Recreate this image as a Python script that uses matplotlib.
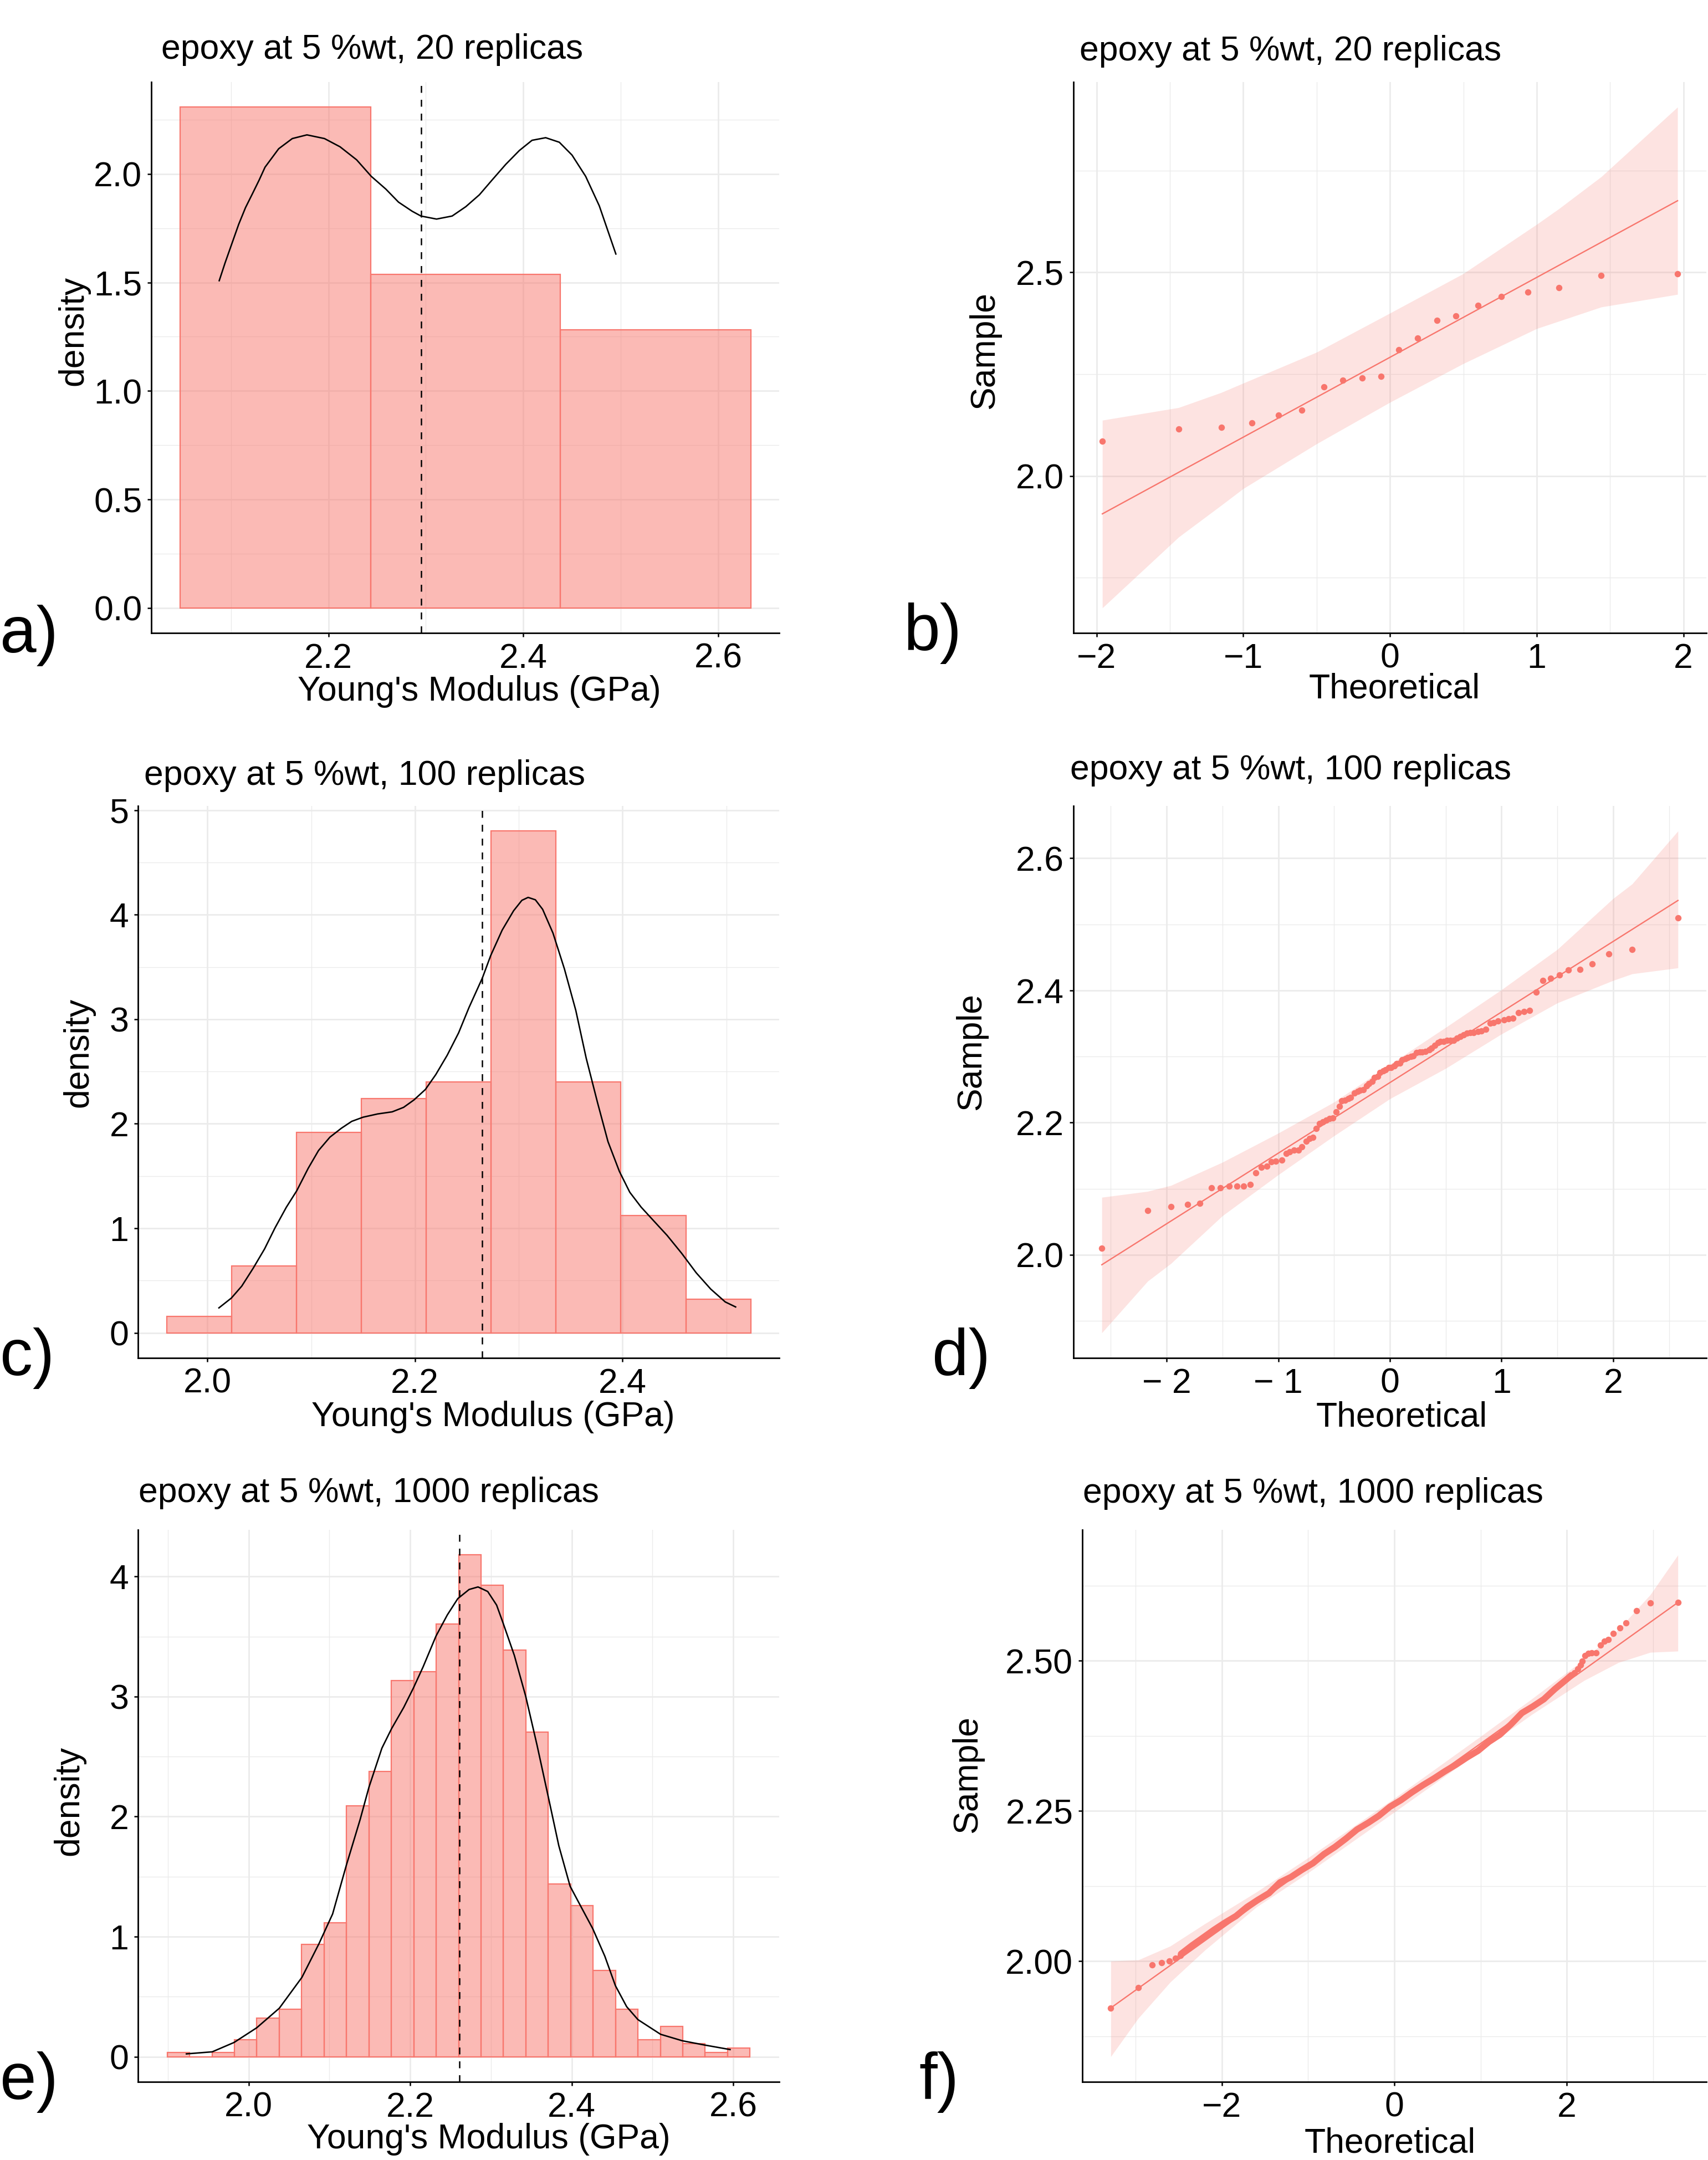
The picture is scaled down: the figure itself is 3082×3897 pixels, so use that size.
import matplotlib
matplotlib.use('Agg')
import matplotlib.pyplot as plt
import numpy as np
from matplotlib.ticker import FixedLocator, FixedFormatter

plt.rcParams['font.family'] = ['Liberation Sans', 'DejaVu Sans']

W, H, DPI = 3082, 3897, 100
SALMON = '#F8766D'
GRID = '#EBEBEB'

# ---------------- data ----------------
# a) histogram + density, 20 replicas
a_edges = [2.048, 2.2435, 2.438, 2.6335]
a_density = [2.308, 1.538, 1.282]
a_mean = 2.295
a_kde_x = [2.088, 2.094, 2.101, 2.108, 2.115, 2.122, 2.129, 2.135, 2.149, 2.163, 2.178,
           2.196, 2.212, 2.229, 2.244, 2.259, 2.272, 2.286, 2.295, 2.311, 2.327, 2.341,
           2.355, 2.368, 2.382, 2.396, 2.409, 2.423, 2.437, 2.450, 2.464, 2.478, 2.495]
a_kde_y = [1.508, 1.590, 1.679, 1.768, 1.845, 1.908, 1.972, 2.031, 2.116, 2.163, 2.180,
           2.163, 2.125, 2.065, 1.989, 1.930, 1.870, 1.828, 1.806, 1.792, 1.806, 1.849,
           1.904, 1.972, 2.044, 2.108, 2.155, 2.167, 2.146, 2.087, 1.989, 1.853, 1.631]

# b) QQ plot, 20 replicas
b_theo = [-1.96, -1.44, -1.15, -0.94, -0.76, -0.60, -0.45, -0.32, -0.19, -0.06,
          0.06, 0.19, 0.32, 0.45, 0.60, 0.76, 0.94, 1.15, 1.44, 1.96]
b_sample = [2.086, 2.115, 2.120, 2.131, 2.149, 2.162, 2.219, 2.235, 2.241, 2.245,
            2.310, 2.338, 2.382, 2.393, 2.419, 2.441, 2.451, 2.462, 2.492, 2.496]
b_line_x = [-1.96, 1.96]
b_line_y = [1.907, 2.676]
b_band_x = [-1.96, -1.44, -1.15, -1.0, -0.5, 0.0, 0.5, 1.0, 1.15, 1.44, 1.96]
b_band_hi = [2.137, 2.168, 2.205, 2.228, 2.304, 2.400, 2.497, 2.618, 2.656, 2.735, 2.906]
b_band_lo = [1.676, 1.850, 1.928, 1.969, 2.079, 2.181, 2.276, 2.362, 2.380, 2.415, 2.446]

# c) histogram + density, 100 replicas
c_edges = [1.961, 2.0235, 2.086, 2.1485, 2.211, 2.2735, 2.336, 2.3985, 2.461, 2.5235]
c_density = [0.16, 0.64, 1.92, 2.24, 2.40, 4.80, 2.40, 1.12, 0.32]
c_mean = 2.2647
c_kde_x = [2.011, 2.023, 2.033, 2.044, 2.055, 2.065, 2.076, 2.086, 2.097, 2.107, 2.118,
           2.129, 2.139, 2.150, 2.164, 2.178, 2.189, 2.199, 2.210, 2.220, 2.231, 2.242,
           2.252, 2.265, 2.273, 2.284, 2.295, 2.303, 2.309, 2.316, 2.323, 2.333, 2.344,
           2.355, 2.365, 2.376, 2.386, 2.397, 2.407, 2.418, 2.429, 2.443, 2.457, 2.471,
           2.485, 2.499, 2.509]
c_kde_y = [0.239, 0.333, 0.447, 0.618, 0.803, 1.003, 1.202, 1.359, 1.573, 1.744, 1.872,
           1.957, 2.023, 2.063, 2.094, 2.114, 2.157, 2.228, 2.328, 2.470, 2.655, 2.869,
           3.111, 3.396, 3.610, 3.852, 4.037, 4.137, 4.165, 4.142, 4.051, 3.823, 3.481,
           3.083, 2.627, 2.199, 1.829, 1.544, 1.345, 1.202, 1.083, 0.932, 0.761, 0.575,
           0.419, 0.296, 0.248]

# d) QQ plot, 100 replicas
d_theo = [-2.58, -2.17, -1.96, -1.81, -1.70, -1.60, -1.52, -1.44, -1.37, -1.31,
          -1.25, -1.20, -1.15, -1.10, -1.06, -1.02, -0.97, -0.93, -0.90, -0.86,
          -0.82, -0.79, -0.75, -0.72, -0.69, -0.66, -0.63, -0.60, -0.57, -0.54,
          -0.51, -0.48, -0.45, -0.43, -0.40, -0.37, -0.35, -0.32, -0.29, -0.27,
          -0.24, -0.21, -0.19, -0.16, -0.14, -0.11, -0.09, -0.06, -0.04, -0.01,
          0.01, 0.04, 0.06, 0.09, 0.11, 0.14, 0.16, 0.19, 0.21, 0.24,
          0.27, 0.29, 0.32, 0.35, 0.37, 0.40, 0.43, 0.45, 0.48, 0.51,
          0.54, 0.57, 0.60, 0.63, 0.66, 0.69, 0.72, 0.75, 0.79, 0.82,
          0.86, 0.90, 0.93, 0.97, 1.02, 1.06, 1.10, 1.15, 1.20, 1.25,
          1.31, 1.37, 1.44, 1.52, 1.60, 1.70, 1.81, 1.96, 2.17, 2.58]
d_sample = [2.010, 2.067, 2.073, 2.076, 2.078, 2.101, 2.101, 2.104, 2.104, 2.104,
            2.106, 2.124, 2.132, 2.134, 2.141, 2.142, 2.143, 2.153, 2.156, 2.158,
            2.158, 2.163, 2.172, 2.176, 2.178, 2.191, 2.199, 2.201, 2.204, 2.206,
            2.207, 2.216, 2.225, 2.233, 2.234, 2.236, 2.238, 2.245, 2.247, 2.249,
            2.250, 2.256, 2.259, 2.262, 2.268, 2.270, 2.276, 2.278, 2.280, 2.283,
            2.283, 2.286, 2.289, 2.290, 2.295, 2.297, 2.298, 2.300, 2.301, 2.306,
            2.307, 2.307, 2.308, 2.310, 2.313, 2.317, 2.321, 2.323, 2.323, 2.324,
            2.324, 2.324, 2.328, 2.330, 2.333, 2.335, 2.336, 2.336, 2.338, 2.339,
            2.341, 2.350, 2.351, 2.354, 2.355, 2.357, 2.358, 2.366, 2.368, 2.370,
            2.397, 2.415, 2.418, 2.423, 2.431, 2.432, 2.440, 2.455, 2.462, 2.510]
d_line_x = [-2.58, 2.58]
d_line_y = [1.985, 2.536]
d_band_x = [-2.58, -2.17, -1.96, -1.5, -1.0, -0.5, 0.0, 0.5, 1.0, 1.5, 2.0, 2.17, 2.58]
d_band_hi = [2.087, 2.096, 2.105, 2.140, 2.184, 2.231, 2.288, 2.344, 2.401, 2.462, 2.539, 2.561, 2.641]
d_band_lo = [1.882, 1.960, 1.987, 2.059, 2.121, 2.180, 2.236, 2.282, 2.334, 2.381, 2.415, 2.425, 2.434]

# e) histogram + density, 1000 replicas
e_edges = [1.8992, 1.9270, 1.9547, 1.9825, 2.0102, 2.0380, 2.0657, 2.0935, 2.1212,
           2.1490, 2.1767, 2.2045, 2.2322, 2.2600, 2.2877, 2.3155, 2.3432, 2.3710,
           2.3987, 2.4265, 2.4542, 2.4820, 2.5097, 2.5375, 2.5652, 2.5930, 2.6207]
e_density = [0.036, 0.0, 0.036, 0.144, 0.324, 0.396, 0.937, 1.117, 2.090, 2.378,
             3.135, 3.207, 3.604, 4.180, 3.928, 3.387, 2.703, 1.441, 1.261, 0.721,
             0.396, 0.144, 0.252, 0.108, 0.036, 0.072]
e_mean = 2.261
e_kde_x = [1.923, 1.955, 1.982, 2.010, 2.038, 2.066, 2.087, 2.104, 2.121, 2.138, 2.149,
           2.165, 2.177, 2.192, 2.204, 2.216, 2.232, 2.246, 2.259, 2.273, 2.284, 2.296,
           2.307, 2.315, 2.329, 2.343, 2.357, 2.371, 2.384, 2.398, 2.412, 2.426, 2.441,
           2.454, 2.468, 2.482, 2.510, 2.537, 2.565, 2.596]
e_kde_y = [0.024, 0.041, 0.119, 0.241, 0.404, 0.661, 0.940, 1.189, 1.595, 1.974, 2.245,
           2.570, 2.733, 2.909, 3.071, 3.247, 3.504, 3.680, 3.816, 3.892, 3.913, 3.875,
           3.762, 3.613, 3.342, 3.003, 2.597, 2.164, 1.758, 1.420, 1.243, 1.067, 0.837,
           0.593, 0.417, 0.309, 0.187, 0.133, 0.097, 0.060]

# f) QQ plot, 1000 replicas: separate tail points + dense central run
f_tail_theo = [-3.29, -2.97, -2.81, -2.70, -2.61, -2.54, -2.48,
               2.09, 2.13, 2.16, 2.18, 2.21, 2.25, 2.29, 2.34, 2.39, 2.44, 2.48,
               2.54, 2.62, 2.69, 2.81, 2.97, 3.29]
f_tail_sample = [1.922, 1.956, 1.994, 1.997, 2.000, 2.005, 2.009,
                 2.480, 2.486, 2.493, 2.499, 2.509, 2.512, 2.513, 2.513, 2.526, 2.533, 2.535,
                 2.545, 2.555, 2.563, 2.583, 2.596, 2.597]
f_dense_theo = [-2.475, -2.348, -2.220, -2.093, -1.965, -1.837, -1.710, -1.582, -1.455,
                -1.327, -1.199, -1.072, -0.944, -0.817, -0.689, -0.561, -0.434, -0.306,
                -0.179, -0.051, 0.077, 0.204, 0.332, 0.459, 0.587, 0.715, 0.842, 0.970,
                1.097, 1.225, 1.352, 1.480, 1.608, 1.735, 1.863, 1.990, 2.054]
f_dense_sample = [2.012, 2.026, 2.039, 2.052, 2.064, 2.075, 2.090, 2.102, 2.113, 2.131,
                  2.140, 2.152, 2.163, 2.178, 2.190, 2.204, 2.219, 2.230, 2.242, 2.257,
                  2.268, 2.281, 2.293, 2.304, 2.316, 2.327, 2.339, 2.350, 2.365, 2.377,
                  2.394, 2.413, 2.424, 2.436, 2.453, 2.468, 2.476]
f_line_x = [-3.29, 3.29]
f_line_y = [1.922, 2.597]
f_band_x = [-3.29, -2.97, -2.6, -2.2, -1.6, -1.0, 0.0, 1.0, 1.6, 2.2, 2.6, 2.97, 3.29]
f_band_hi = [2.000, 2.002, 2.025, 2.062, 2.115, 2.172, 2.271, 2.374, 2.437, 2.502, 2.552, 2.610, 2.676]
f_band_lo = [1.841, 1.905, 1.965, 2.018, 2.090, 2.147, 2.248, 2.350, 2.411, 2.467, 2.497, 2.514, 2.516]

titles = ['epoxy at 5 %wt, 20 replicas', 'epoxy at 5 %wt, 100 replicas',
          'epoxy at 5 %wt, 1000 replicas']

# ---------------- layout helpers ----------------
fig = plt.figure(figsize=(W / DPI, H / DPI), dpi=DPI)


def add_ax(l, r, t, b):
    return fig.add_axes([l / W, 1 - b / H, (r - l) / W, (b - t) / H])


def ftext(x, y, s, **kw):
    fig.text(x / W, 1 - y / H, s, **kw)


FS = 45


def style(ax, xlim, ylim, xt, xtl, yt, ytl, xminor, yminor):
    ax.set_xlim(*xlim)
    ax.set_ylim(*ylim)
    ax.xaxis.set_major_locator(FixedLocator(xt))
    ax.xaxis.set_major_formatter(FixedFormatter(xtl))
    ax.yaxis.set_major_locator(FixedLocator(yt))
    ax.yaxis.set_major_formatter(FixedFormatter(ytl))
    ax.xaxis.set_minor_locator(FixedLocator(xminor))
    ax.yaxis.set_minor_locator(FixedLocator(yminor))
    ax.grid(which='major', color=GRID, lw=2.0, zorder=0)
    ax.grid(which='minor', color=GRID, lw=1.0, zorder=0)
    ax.set_axisbelow(True)
    for s in ('top', 'right'):
        ax.spines[s].set_visible(False)
    for s in ('left', 'bottom'):
        ax.spines[s].set_linewidth(2.0)
        ax.spines[s].set_color('black')
    ax.tick_params(which='major', length=5, width=1.8, color='black',
                   labelsize=FS, pad=7, labelcolor='black')
    ax.tick_params(which='minor', length=0)
    ax.set_facecolor('white')


def hist_panel(ax, edges, dens, mean, kx, ky):
    edges = np.asarray(edges)
    ax.bar(edges[:-1], dens, width=np.diff(edges), align='edge',
           facecolor=(248 / 255, 118 / 255, 109 / 255, 0.5), edgecolor=SALMON,
           linewidth=1.6, zorder=2)
    ax.plot(kx, ky, color='black', lw=1.9, zorder=3, solid_joinstyle='round')
    ax.axvline(mean, color='black', lw=1.8, ls=(0, (5, 5)), zorder=4)


def qq_panel(ax, bx, lo, hi, lx, ly, tx, ty):
    ax.fill_between(bx, lo, hi, color=SALMON, alpha=0.2, lw=0, zorder=1)
    ax.plot(lx, ly, color=SALMON, lw=1.7, zorder=2)
    ax.scatter(tx, ty, s=68, color=SALMON, lw=0, zorder=3)


# ---------------- a ----------------
ax = add_ax(273, 1406, 148, 1142)
style(ax, (2.0183, 2.6626), (-0.1154, 2.4235), [2.2, 2.4, 2.6], ['2.2', '2.4', '2.6'],
      [0, 0.5, 1.0, 1.5, 2.0], ['0.0', '0.5', '1.0', '1.5', '2.0'],
      [2.1, 2.3, 2.5], [0.25, 0.75, 1.25, 1.75, 2.25])
hist_panel(ax, a_edges, a_density, a_mean, a_kde_x, a_kde_y)

# ---------------- b ----------------
ax = add_ax(1937, 3079, 148, 1142)
style(ax, (-2.157, 2.156), (1.6145, 2.9675), [-2, -1, 0, 1, 2],
      ['\u22122', '\u22121', '0', '1', '2'], [2.0, 2.5], ['2.0', '2.5'],
      [-1.5, -0.5, 0.5, 1.5], [1.75, 2.25, 2.75])
qq_panel(ax, b_band_x, b_band_lo, b_band_hi, b_line_x, b_line_y, b_theo, b_sample)

# ---------------- c ----------------
ax = add_ax(249, 1406, 1454, 2450)
style(ax, (1.933, 2.551), (-0.24, 5.04), [2.0, 2.2, 2.4], ['2.0', '2.2', '2.4'],
      [0, 1, 2, 3, 4, 5], ['0', '1', '2', '3', '4', '5'],
      [2.1, 2.3, 2.5], [0.5, 1.5, 2.5, 3.5, 4.5])
hist_panel(ax, c_edges, c_density, c_mean, c_kde_x, c_kde_y)

# ---------------- d ----------------
ax = add_ax(1937, 3079, 1454, 2450)
style(ax, (-2.834, 2.834), (1.844, 2.679), [-2, -1, 0, 1, 2],
      ['\u2212 2', '\u2212 1', '0', '1', '2'], [2.0, 2.2, 2.4, 2.6],
      ['2.0', '2.2', '2.4', '2.6'], [-2.5, -1.5, -0.5, 0.5, 1.5, 2.5],
      [1.9, 2.1, 2.3, 2.5])
qq_panel(ax, d_band_x, d_band_lo, d_band_hi, d_line_x, d_line_y, d_theo, d_sample)

# ---------------- e ----------------
ax = add_ax(249, 1406, 2760, 3756)
style(ax, (1.8631, 2.6568), (-0.209, 4.389), [2.0, 2.2, 2.4, 2.6],
      ['2.0', '2.2', '2.4', '2.6'], [0, 1, 2, 3, 4], ['0', '1', '2', '3', '4'],
      [1.9, 2.1, 2.3, 2.5], [0.5, 1.5, 2.5, 3.5])
hist_panel(ax, e_edges, e_density, e_mean, e_kde_x, e_kde_y)

# ---------------- f ----------------
ax = add_ax(1953, 3079, 2760, 3756)
style(ax, (-3.62, 3.62), (1.799, 2.718), [-2, 0, 2], ['\u22122', '0', '2'],
      [2.0, 2.25, 2.5], ['2.00', '2.25', '2.50'], [-3, -1, 1, 3],
      [1.875, 2.125, 2.375, 2.625])
ax.fill_between(f_band_x, f_band_lo, f_band_hi, color=SALMON, alpha=0.2, lw=0, zorder=1)
ax.plot(f_line_x, f_line_y, color=SALMON, lw=1.7, zorder=2)
ax.plot(f_dense_theo, f_dense_sample, color=SALMON, lw=8.3,
        solid_capstyle='round', solid_joinstyle='round', zorder=3)
ax.scatter(f_tail_theo, f_tail_sample, s=68, color=SALMON, lw=0, zorder=3)

# ---------------- texts ----------------
TFS = 45
ftext(291, 106, titles[0], fontsize=TFS, va='baseline')
ftext(1948, 109, titles[0], fontsize=TFS, va='baseline')
ftext(260, 1416, titles[1], fontsize=TFS, va='baseline')
ftext(1931, 1406, titles[1], fontsize=TFS, va='baseline')
ftext(250, 2710, titles[2], fontsize=TFS, va='baseline')
ftext(1954, 2711, titles[2], fontsize=TFS, va='baseline')

for (x, y) in [(865, 1264), (890, 2573), (882, 3876)]:
    ftext(x, y, "Young's Modulus (GPa)", fontsize=FS, ha='center', va='baseline')
for (x, y) in [(2516, 1259), (2529, 2573), (2508, 3884)]:
    ftext(x, y, 'Theoretical', fontsize=FS, ha='center', va='baseline')
for (x, y) in [(133, 597), (142, 1899), (125, 3249)]:
    ftext(x, y, 'density', fontsize=FS, ha='center', va='center', rotation=90)
for (x, y) in [(1777, 632), (1753, 1897), (1746, 3201)]:
    ftext(x, y, 'Sample', fontsize=FS, ha='center', va='center', rotation=90)

PFS = 85
for (x, y, s) in [(0, 1177, 'a)'), (1630, 1173, 'b)'), (0, 2481, 'c)'),
                  (1682, 2481, 'd)'), (0, 3787, 'e)'), (1658, 3787, 'f)')]:
    ftext(x, y, s, fontsize=PFS, va='baseline', ha='left')

fig.savefig('out.png', dpi=DPI, facecolor='white')
